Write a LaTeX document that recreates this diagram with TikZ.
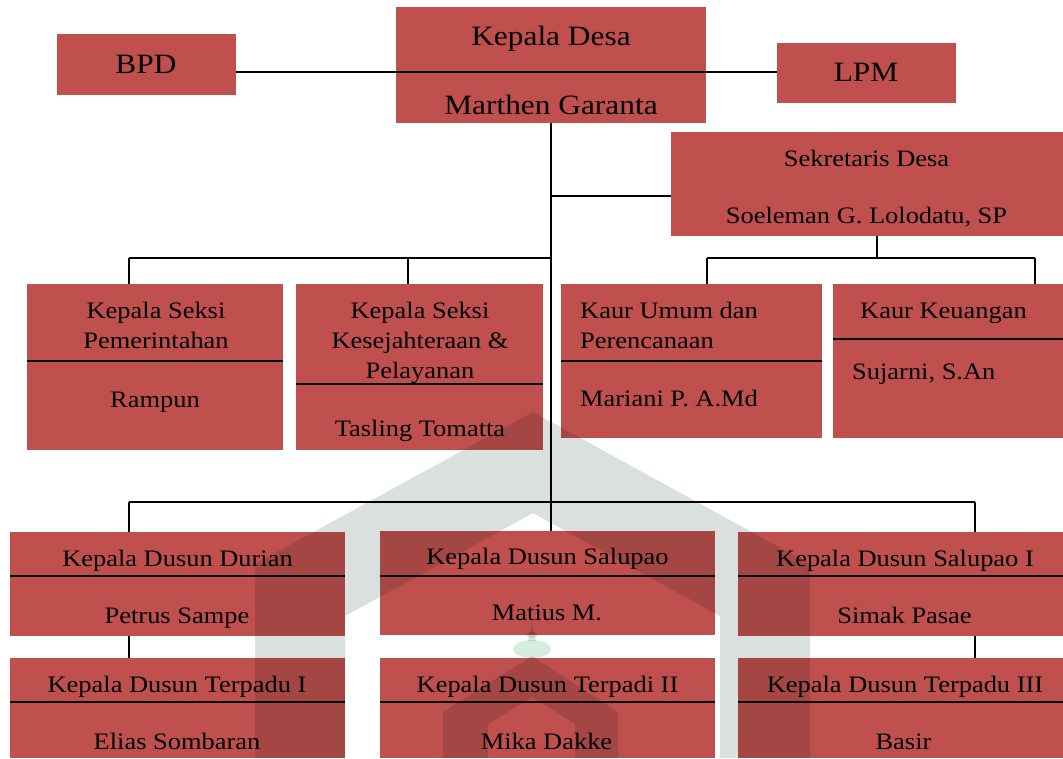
\documentclass[tikz,border=0pt]{standalone}
\usepackage{fontspec}
\setmainfont[FakeStretch=1.12]{Liberation Serif}
\usetikzlibrary{calc}

\definecolor{boxred}{HTML}{C0504D}
\definecolor{markgray}{HTML}{DAE0DE}
\definecolor{markgreen}{HTML}{D5EDE0}

\begin{document}
\begin{tikzpicture}[
      x=1pt, y=-1pt,
      unit/.style={
          rectangle,
          fill=boxred,
          inner sep=0pt
        },
      dims/.style 2 args={minimum width=#1pt, minimum height=#2pt},
      toplbl/.style={font=\fontsize{28}{34}\selectfont, inner sep=0pt, anchor=base},
      lbl/.style={font=\fontsize{23.6}{30}\selectfont, inner sep=0pt, anchor=base, align=center},
      conn/.style={line width=1.2pt},
      split/.style={line width=2pt}
    ]
    \useasboundingbox (0,0) rectangle (1063,758);

    % Explicit positions, top level
    \node[unit, dims={310}{116}] at (551,65)    (kades)  {};
    \node[unit, dims={179}{61}]  at (146.5,64.5) (bpd)   {};
    \node[unit, dims={179}{60}]  at (866.5,73)  (lpm)    {};
    \node[unit, dims={392}{104}] at (867,184)   (sekdes) {};

    % Seksi and Kaur
    \node[unit, dims={256}{166}] at (155,367)   (seksi1) {};
    \node[unit, dims={247}{166}] at (419.5,367) (seksi2) {};
    \node[unit, dims={261}{154}] at (691.5,361) (kaur1)  {};
    \node[unit, dims={230}{154}] at (948,361)   (kaur2)  {};

    % Dusun
    \node[unit, dims={335}{104}] at (177.5,584) (dusun1) {};
    \node[unit, dims={335}{104}] at (547.5,583) (dusun2) {};
    \node[unit, dims={325}{104}] at (900.5,584) (dusun3) {};
    \node[unit, dims={335}{100}] at (177.5,708) (terpadu1) {};
    \node[unit, dims={335}{100}] at (547.5,708) (terpadu2) {};
    \node[unit, dims={325}{100}] at (900.5,708) (terpadu3) {};

    % Dividers
    \draw[split] (seksi1.west |- 0,361) -- (seksi1.east |- 0,361);
    \draw[split] (seksi2.west |- 0,384) -- (seksi2.east |- 0,384);
    \draw[split] (kaur1.west |- 0,361) -- (kaur1.east |- 0,361);
    \draw[split] (kaur2.west |- 0,339) -- (kaur2.east |- 0,339);
    \foreach \n in {dusun1,dusun2,dusun3}
      \draw[split] (\n.west |- 0,576) -- (\n.east |- 0,576);
    \foreach \n in {terpadu1,terpadu2,terpadu3}
      \draw[split] (\n.west |- 0,702) -- (\n.east |- 0,702);

    % Bus points
    \coordinate (busL)  at (129,258);
    \coordinate (busS)  at (408,258);
    \coordinate (busR)  at (707,258);
    \coordinate (busK)  at (1035,258);
    \coordinate (busD1) at (129,502);
    \coordinate (busD3) at (975,502);

    % Connectors
    \draw[conn] (bpd.east |- 0,72) -- (lpm.west |- 0,72);
    \draw[conn] (kades.south) -- (kades.south |- dusun2.north);
    \draw[conn] (kades.south |- 0,196) -- (sekdes.west |- 0,196);
    \draw[conn] (busL) -- (kades.south |- busL);
    \draw[conn] (busL) -- (busL |- seksi1.north);
    \draw[conn] (busS) -- (busS |- seksi2.north);
    \draw[conn] (busR) -- (busK);
    \draw[conn] (sekdes.south -| 877,0) -- (877,258);
    \draw[conn] (busR) -- (busR |- kaur1.north);
    \draw[conn] (busK) -- (busK |- kaur2.north);
    \draw[conn] (busD1) -- (busD3);
    \draw[conn] (busD1) -- (busD1 |- dusun1.north);
    \draw[conn] (busD3) -- (busD3 |- dusun3.north);
    \draw[conn] (busD1 |- dusun1.south) -- (busD1 |- terpadu1.north);
    \draw[conn] (busD3 |- dusun3.south) -- (busD3 |- terpadu3.north);

    % Texts (multi-line nodes sit on their last baseline)
    \node[toplbl] at (551,45)  (kadesjab) {Kepala Desa};
    \node[toplbl] at (551,114) (kadesnm)  {Marthen Garanta};
    \node[toplbl] at (146,73)  (bpdtx)    {BPD};
    \node[toplbl] at (866,81)  (lpmtx)    {LPM};
    \node[lbl] at (866.5,166) (sekjab) {Sekretaris Desa};
    \node[lbl] at (866.5,223) (seknm)  {Soeleman G. Lolodatu, SP};

    \node[lbl] at (156,348) (s1jab) {Kepala Seksi\\Pemerintahan};
    \node[lbl] at (155,407) (s1nm)  {Rampun};
    \node[lbl] at (420,378) (s2jab) {Kepala Seksi\\Kesejahteraan \&\\Pelayanan};
    \node[lbl] at (420,436) (s2nm)  {Tasling Tomatta};
    \node[lbl, anchor=base west, align=left] at (580,348) (k1jab) {Kaur Umum dan\\Perencanaan};
    \node[lbl, anchor=base west] at (580,406) (k1nm) {Mariani P. A.Md};
    \node[lbl, anchor=base west] at (860,318) (k2jab) {Kaur Keuangan};
    \node[lbl, anchor=base west] at (852,379) (k2nm) {Sujarni, S.An};

    \node[lbl] at (177.5,566) (d1jab) {Kepala Dusun Durian};
    \node[lbl] at (177,623)   (d1nm)  {Petrus Sampe};
    \node[lbl] at (547.5,564) (d2jab) {Kepala Dusun Salupao};
    \node[lbl] at (547,620)   (d2nm)  {Matius M.};
    \node[lbl] at (905,566)   (d3jab) {Kepala Dusun Salupao I};
    \node[lbl] at (904.5,623) (d3nm)  {Simak Pasae};
    \node[lbl] at (177,692)   (t1jab) {Kepala Dusun Terpadu I};
    \node[lbl] at (177,749)   (t1nm)  {Elias Sombaran};
    \node[lbl] at (547.5,692) (t2jab) {Kepala Dusun Terpadi II};
    \node[lbl] at (546.5,749) (t2nm)  {Mika Dakke};
    \node[lbl] at (905,692)   (t3jab) {Kepala Dusun Terpadu III};
    \node[lbl] at (903.5,749) (t3nm)  {Basir};

    % Watermark
    \begin{scope}[blend mode=multiply]
      \fill[markgray] (533,412) -- (810,564) -- (810,758) -- (720,758) -- (720,616)
        -- (533,513) -- (345,616) -- (345,758) -- (255,758) -- (255,564) -- cycle;
      \fill[markgray, even odd rule] (532,656) -- (618,712) -- (618,758) -- (443,758) -- (443,712) -- cycle
        (532,697) -- (575,724) -- (575,758) -- (488,758) -- (488,724) -- cycle;
      \fill[markgreen] (532,649) ellipse [x radius=19, y radius=9];
      \fill[markgreen] (532,635) ellipse [x radius=6, y radius=3];
      \fill[markgreen] (528,641) -- (532,622) -- (536,641) -- cycle;
    \end{scope}
  \end{tikzpicture}
\end{document}
